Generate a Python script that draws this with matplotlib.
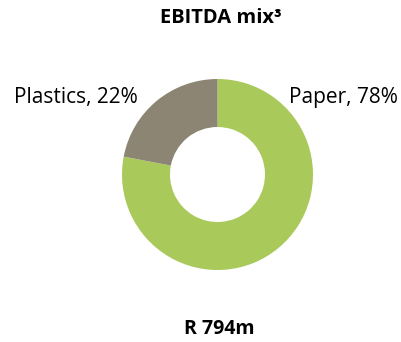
import matplotlib.pyplot as plt

segments = ["Paper", "Plastics"]
shares = [78, 22]
colors = ["#A9C95B", "#8C8574"]
total_label = "R 794m"

W, H = 401, 342
fig = plt.figure(figsize=(W / 100, H / 100), dpi=100)
ax = fig.add_axes([0, 0, 1, 1])

outer = 95.5
ax.pie(shares, colors=colors, startangle=90, counterclock=False,
       center=(217.5, H - 174.5), radius=outer, frame=True,
       wedgeprops=dict(width=outer - 47.5, linewidth=0))
ax.set_xlim(0, W)
ax.set_ylim(0, H)
ax.set_aspect("auto")
ax.axis("off")

font = "Open Sans"
ax.text(221, H - 18, "EBITDA mix³", ha="center", va="center",
        fontsize=14.5, fontweight="bold", family=font)
ax.text(76, H - 97, f"{segments[1]}, {shares[1]}%", ha="center", va="center",
        fontsize=15, family=font)
ax.text(343.5, H - 97, f"{segments[0]}, {shares[0]}%", ha="center", va="center",
        fontsize=15, family=font)
ax.text(219, H - 329, total_label, ha="center", va="center",
        fontsize=14, fontweight="bold", family=font)

fig.savefig("out.png", dpi=100)
